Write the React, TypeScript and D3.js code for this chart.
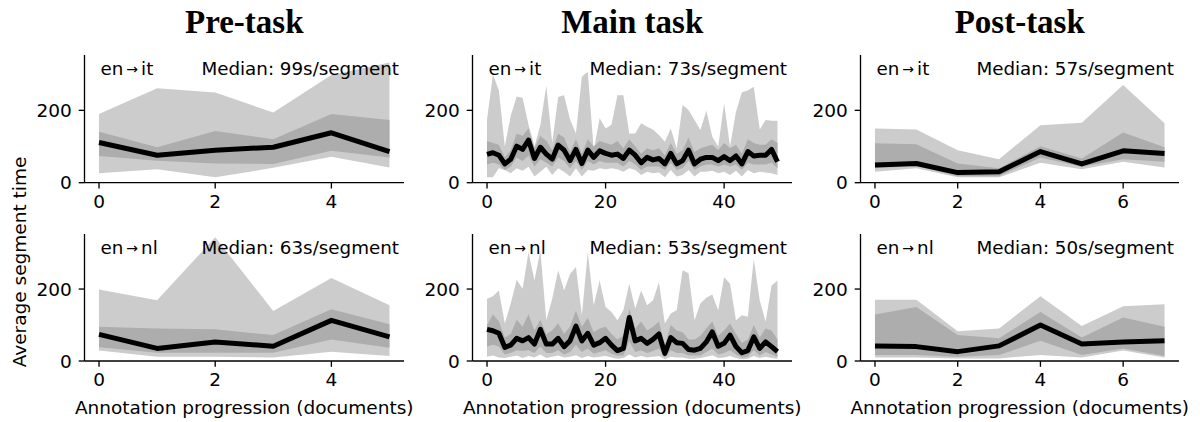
import React from "react";
import * as d3 from "d3";

// ---------- data ----------
const columnTitles = ["Pre-task", "Main task", "Post-task"];
const rowSrc = ["en", "en"];
const rowTgt = ["it", "nl"];
const medians = [
  ["99", "73", "57"],
  ["63", "53", "50"],
];
const yTicks = [0, 200];
const xTicksPre = [0, 2, 4];
const xTicksMain = [0, 20, 40];
const xTicksPost = [0, 2, 4, 6];

// Pre-task en→it
const preItMid = [111, 76, 90, 98, 138, 86];
const preItOutLo = [26, 37, 15, 41, 72, 42];
const preItOutHi = [190, 261, 249, 194, 298, 332];
const preItInLo = [74, 61, 53, 52, 88, 70];
const preItInHi = [141, 98, 143, 120, 190, 173];

// Pre-task en→nl
const preNlMid = [74, 35, 53, 41, 113, 67];
const preNlOutLo = [29, 12, 12, 10, 26, 14];
const preNlOutHi = [199, 169, 344, 139, 231, 155];
const preNlInLo = [38, 23, 23, 23, 60, 37];
const preNlInHi = [95, 90, 88, 72, 144, 102];

// Post-task en→it
const postItMid = [49, 53, 28, 30, 86, 52, 88, 81];
const postItOutLo = [30, 40, 15, 15, 55, 37, 58, 42];
const postItOutHi = [150, 147, 90, 65, 159, 166, 270, 164];
const postItInLo = [40, 46, 18, 18, 70, 44, 65, 58];
const postItInHi = [109, 106, 53, 40, 101, 67, 139, 98];

// Post-task en→nl
const postNlMid = [42, 40, 26, 42, 100, 47, 53, 56];
const postNlOutLo = [10, 10, 7, 7, 17, 10, 29, 10];
const postNlOutHi = [170, 170, 83, 90, 180, 97, 152, 158];
const postNlInLo = [17, 17, 12, 17, 56, 17, 35, 14];
const postNlInHi = [129, 150, 72, 63, 136, 65, 121, 95];

// Main task en→it
const mainItMid = [78, 83, 76, 52, 65, 101, 92, 118, 67, 98, 79, 65, 104, 90, 61, 92, 53, 90, 70, 88,
  81, 76, 79, 67, 90, 76, 55, 70, 63, 67, 52, 81, 52, 61, 90, 52, 65, 70, 70, 61,
  72, 61, 74, 52, 86, 74, 76, 76, 92, 58];
const mainItOutLo = [15, 15, 40, 35, 26, 40, 33, 44, 17, 30, 44, 21, 40, 30, 17, 40, 17, 35, 33, 40,
  37, 40, 37, 30, 40, 35, 21, 30, 26, 28, 15, 35, 17, 21, 35, 17, 30, 30, 33, 26,
  30, 21, 33, 17, 35, 26, 30, 28, 26, 21];
const mainItOutHi = [175, 300, 255, 100, 185, 238, 235, 160, 100, 160, 268, 110, 237, 242, 175, 136, 293, 307, 90, 178,
  150, 160, 242, 242, 136, 136, 164, 155, 147, 132, 113, 150, 95, 215, 201, 173, 146, 199, 127, 100,
  219, 100, 196, 250, 255, 265, 147, 173, 171, 171];
const mainItInLo = [50, 55, 50, 35, 45, 70, 60, 75, 45, 65, 55, 45, 70, 60, 40, 60, 35, 60, 50, 60,
  55, 55, 55, 45, 60, 50, 35, 45, 45, 45, 35, 55, 35, 40, 60, 35, 45, 50, 50, 45,
  50, 45, 50, 35, 55, 50, 50, 50, 55, 40];
const mainItInHi = [115, 110, 105, 70, 90, 135, 130, 150, 95, 130, 115, 90, 135, 125, 85, 120, 80, 120, 100, 115,
  110, 105, 115, 95, 120, 100, 80, 95, 90, 95, 75, 110, 80, 90, 125, 85, 95, 100, 105, 90,
  110, 95, 105, 80, 120, 110, 105, 105, 120, 110];

// Main task en→nl
const mainNlMid = [88, 84, 77, 38, 44, 63, 56, 65, 47, 88, 47, 47, 63, 40, 56, 97, 56, 77, 44, 51,
  63, 44, 29, 35, 121, 56, 63, 49, 60, 75, 21, 65, 51, 49, 32, 30, 35, 53, 81, 41,
  49, 72, 40, 23, 29, 67, 35, 53, 40, 26];
const mainNlOutLo = [12, 15, 10, 8, 12, 15, 8, 14, 10, 18, 8, 12, 15, 10, 12, 16, 8, 14, 10, 12,
  14, 10, 6, 8, 18, 10, 14, 10, 12, 14, 5, 12, 10, 10, 6, 6, 8, 12, 16, 8,
  10, 14, 8, 5, 6, 14, 8, 12, 8, 6];
const mainNlOutHi = [173, 180, 196, 104, 160, 226, 201, 302, 224, 307, 113, 173, 252, 196, 242, 261, 127, 302, 155, 224,
  150, 136, 113, 141, 215, 146, 196, 155, 169, 219, 104, 132, 141, 252, 244, 113, 160, 176, 185, 141,
  233, 215, 113, 127, 123, 284, 169, 109, 210, 224];
const mainNlInLo = [40, 45, 40, 18, 22, 30, 28, 30, 22, 40, 22, 22, 30, 18, 25, 45, 25, 35, 20, 25,
  30, 20, 15, 15, 55, 25, 30, 22, 28, 35, 10, 30, 22, 22, 15, 15, 15, 25, 35, 18,
  22, 30, 18, 10, 12, 30, 15, 25, 18, 12];
const mainNlInHi = [100, 130, 110, 65, 75, 115, 95, 130, 85, 115, 75, 85, 105, 75, 95, 140, 95, 120, 80, 90,
  95, 75, 60, 70, 145, 90, 110, 85, 95, 110, 45, 100, 85, 80, 60, 60, 70, 90, 110, 70,
  85, 105, 75, 50, 60, 100, 65, 90, 85, 60];

type Series = { mid: number[]; outLo: number[]; outHi: number[]; inLo: number[]; inHi: number[] };

const panels: Series[][] = [
  [
    { mid: preItMid, outLo: preItOutLo, outHi: preItOutHi, inLo: preItInLo, inHi: preItInHi },
    { mid: mainItMid, outLo: mainItOutLo, outHi: mainItOutHi, inLo: mainItInLo, inHi: mainItInHi },
    { mid: postItMid, outLo: postItOutLo, outHi: postItOutHi, inLo: postItInLo, inHi: postItInHi },
  ],
  [
    { mid: preNlMid, outLo: preNlOutLo, outHi: preNlOutHi, inLo: preNlInLo, inHi: preNlInHi },
    { mid: mainNlMid, outLo: mainNlOutLo, outHi: mainNlOutHi, inLo: mainNlInLo, inHi: mainNlInHi },
    { mid: postNlMid, outLo: postNlOutLo, outHi: postNlOutHi, inLo: postNlInLo, inHi: postNlInHi },
  ],
];
const xTickSets = [xTicksPre, xTicksMain, xTicksPost];

// ---------- layout ----------
const W = 1200;
const H = 422;
const colX: [number, number][] = [
  [84.5, 404],
  [472.5, 792],
  [860.5, 1179],
];
const rowY: [number, number][] = [
  [55, 182.7],
  [234, 361],
];
const yMax = 353;
const FONT = "'DejaVu Sans', sans-serif";
const TICK_FS = 18.5;
const ANN_FS = 18.3;

function Panel({ s, r, c }: { s: Series; r: number; c: number }) {
  const n = s.mid.length;
  const pad = (n - 1) * 0.05;
  const x = d3.scaleLinear().domain([-pad, n - 1 + pad]).range(colX[c]);
  const y = d3.scaleLinear().domain([0, yMax]).range([rowY[r][1], rowY[r][0]]);
  const idx = d3.range(n);
  const areaOut = d3
    .area<number>()
    .x((i) => x(i))
    .y0((i) => y(s.outLo[i]))
    .y1((i) => y(s.outHi[i]));
  const areaIn = d3
    .area<number>()
    .x((i) => x(i))
    .y0((i) => y(s.inLo[i]))
    .y1((i) => y(s.inHi[i]));
  const line = d3
    .line<number>()
    .x((i) => x(i))
    .y((i) => y(s.mid[i]));
  const [x0, x1] = colX[c];
  const [yT, yB] = rowY[r];
  const tickLen = 5.8;
  return (
    <g>
      <path d={areaOut(idx) || ""} fill="#cccccc" />
      <path d={areaIn(idx) || ""} fill="#adadad" />
      <path d={line(idx) || ""} fill="none" stroke="#000" strokeWidth={5} strokeLinejoin="round" />
      {/* spines */}
      <line x1={x0} x2={x0} y1={yT} y2={yB} stroke="#000" strokeWidth={1.33} />
      <line x1={x0} x2={x1} y1={yB} y2={yB} stroke="#000" strokeWidth={1.33} />
      {/* y ticks */}
      {yTicks.map((t) => (
        <g key={"y" + t}>
          <line x1={x0 - tickLen} x2={x0} y1={y(t)} y2={y(t)} stroke="#000" strokeWidth={1.33} />
          <text
            x={x0 - tickLen - 7}
            y={y(t)}
            dy="0.36em"
            textAnchor="end"
            fontFamily={FONT}
            fontSize={TICK_FS}
            fill="#000"
          >
            {t}
          </text>
        </g>
      ))}
      {/* x ticks */}
      {xTickSets[c].map((t) => (
        <g key={"x" + t}>
          <line x1={x(t)} x2={x(t)} y1={yB} y2={yB + tickLen} stroke="#000" strokeWidth={1.33} />
          <text
            x={x(t)}
            y={yB + tickLen + 6 + 13.5}
            textAnchor="middle"
            fontFamily={FONT}
            fontSize={TICK_FS}
            fill="#000"
          >
            {t}
          </text>
        </g>
      ))}
      <text x={x0 + 16} y={yT + 20} fontFamily={FONT} fontSize={ANN_FS} fill="#000">
        {rowSrc[r]}
        <tspan fontSize={14} dx={3} dy={-1}>→</tspan>
        <tspan dx={3} dy={1}>{rowTgt[r]}</tspan>
      </text>
      <text x={x1 - 5} y={yT + 20} textAnchor="end" fontFamily={FONT} fontSize={ANN_FS} fill="#000">
        {`Median: ${medians[r][c]}s/segment`}
      </text>
    </g>
  );
}

export default function App() {
  return (
    <svg width={W} height={H} style={{ position: "absolute", left: 0, top: 0, background: "#fff" }}>
      <rect width={W} height={H} fill="#fff" />
      {columnTitles.map((t, c) => (
        <text
          key={t}
          x={(colX[c][0] + colX[c][1]) / 2}
          y={33}
          textAnchor="middle"
          fontFamily="'Liberation Serif', 'Times New Roman', serif"
          fontWeight="bold"
          fontSize={33}
          fill="#000"
        >
          {t}
        </text>
      ))}
      {panels.map((row, r) => row.map((s, c) => <Panel key={r + "-" + c} s={s} r={r} c={c} />))}
      {colX.map(([a, b], c) => (
        <text
          key={"xl" + c}
          x={(a + b) / 2}
          y={414}
          textAnchor="middle"
          fontFamily={FONT}
          fontSize={TICK_FS}
          fill="#000"
        >
          Annotation progression (documents)
        </text>
      ))}
      <text
        transform={`translate(26, 262) rotate(-90)`}
        textAnchor="middle"
        fontFamily={FONT}
        fontSize={TICK_FS}
        fill="#000"
      >
        Average segment time
      </text>
    </svg>
  );
}
